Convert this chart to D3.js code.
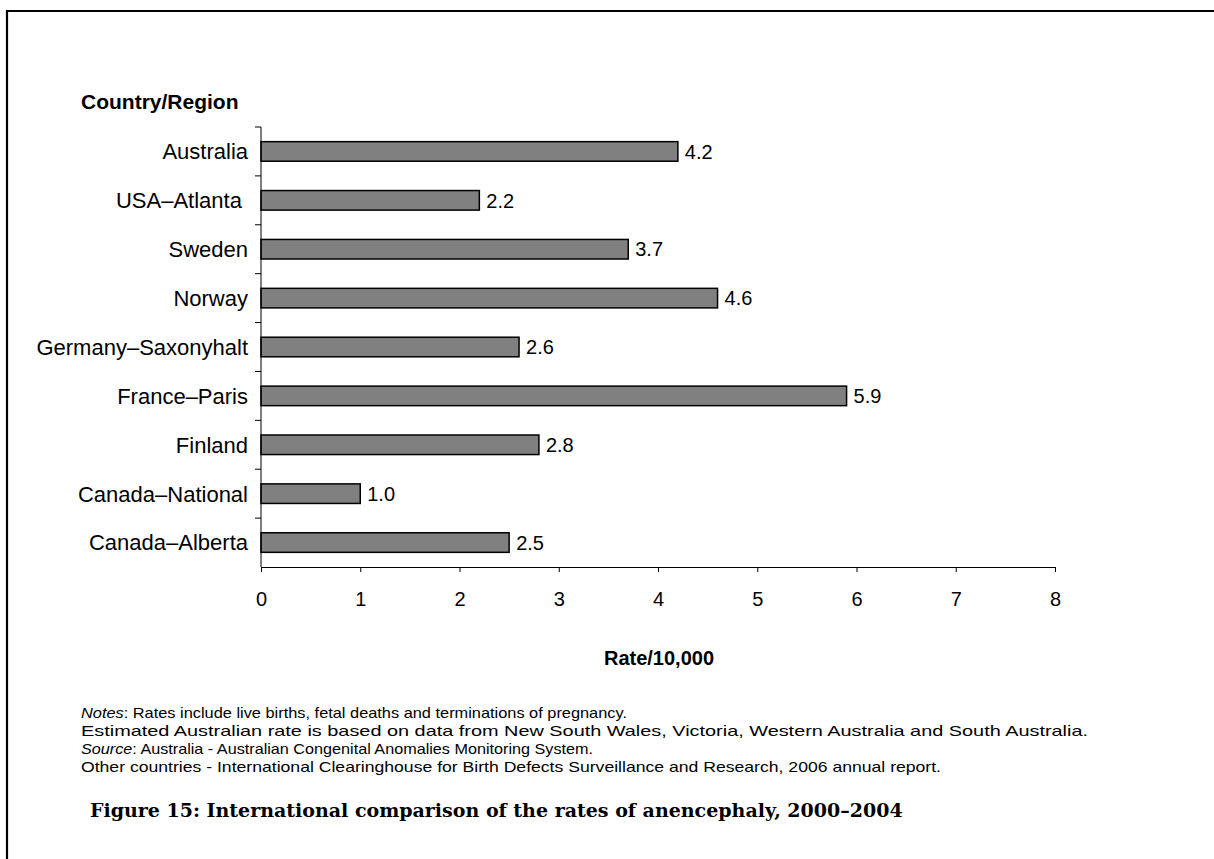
<!DOCTYPE html>
<html>
<head>
<meta charset="utf-8">
<script src="https://cdn.jsdelivr.net/npm/d3@7"></script>
<style>
  body { margin: 0; background: #fff; }
  text { font-family: "Liberation Sans", Arial, sans-serif; fill: #000; }
</style>
</head>
<body>
<script>
// data
let countries = ["Australia", "USA\u2013Atlanta ", "Sweden", "Norway", "Germany\u2013Saxonyhalt",
                 "France\u2013Paris", "Finland", "Canada\u2013National", "Canada\u2013Alberta"];
let rates = [4.2, 2.2, 3.7, 4.6, 2.6, 5.9, 2.8, 1.0, 2.5];
let xTicks = [0, 1, 2, 3, 4, 5, 6, 7, 8];
let notes = [
  [["Notes", true], [": Rates include live births, fetal deaths and terminations of pregnancy.", false]],
  [["Estimated Australian rate is based on data from New South Wales, Victoria, Western Australia and South Australia.", false]],
  [["Source", true], [": Australia - Australian Congenital Anomalies Monitoring System.", false]],
  [["Other countries - International Clearinghouse for Birth Defects Surveillance and Research, 2006 annual report.", false]]
];
let noteWidths = [546, 1007, 512, 860];

let data = countries.map(function(c, i) { return {name: c, rate: rates[i]}; });

let W = 1214, H = 859;
let margin = {top: 127, left: 261},
    width = 1055 - margin.left,
    height = 567 - margin.top;

let svg = d3.select("body").append("svg")
    .attr("width", W)
    .attr("height", H);

// frame (top and left only)
svg.append("path")
    .attr("d", "M7," + H + "V11H" + W)
    .attr("fill", "none")
    .attr("stroke", "#000")
    .attr("stroke-width", 2.2);

let g = svg.append("g")
    .attr("transform", "translate(" + margin.left + "," + margin.top + ")");

let x = d3.scaleLinear().domain([0, 8]).range([0, width]);
let y = d3.scaleBand().domain(countries).range([0, height]).paddingInner(0.6).paddingOuter(0.3);

// bars
g.selectAll(".bar")
    .data(data)
    .enter().append("rect")
    .attr("class", "bar")
    .attr("x", 0)
    .attr("y", function(d) { return y(d.name); })
    .attr("width", function(d) { return x(d.rate); })
    .attr("height", y.bandwidth())
    .attr("fill", "#808080")
    .attr("stroke", "#000")
    .attr("stroke-width", 1.5);

// value labels
g.selectAll(".val")
    .data(data)
    .enter().append("text")
    .attr("class", "val")
    .attr("x", function(d) { return x(d.rate) + 7; })
    .attr("y", function(d) { return y(d.name) + y.bandwidth() / 2; })
    .attr("dy", "0.36em")
    .style("font-size", "20px")
    .text(function(d) { return d.rate.toFixed(1); });

// x axis
let xAxis = g.append("g")
    .attr("transform", "translate(0," + height + ")")
    .call(d3.axisBottom(x).tickValues(xTicks).tickFormat(d3.format("d")).tickSizeInner(5).tickSizeOuter(0).tickPadding(20));
xAxis.selectAll("text").style("font-size", "20px").attr("font-family", null);
xAxis.select(".domain").attr("stroke", "#000");
xAxis.selectAll(".tick line").attr("stroke", "#000");

// y axis: ticks at band boundaries
let step = height / countries.length;
let yAxis = g.append("g");
yAxis.append("line")
    .attr("x1", 0).attr("x2", 0)
    .attr("y1", 0).attr("y2", height)
    .attr("stroke", "#000");
yAxis.selectAll(".ytick")
    .data(d3.range(countries.length))
    .enter().append("line")
    .attr("x1", -6).attr("x2", 0)
    .attr("y1", function(i) { return i * step; })
    .attr("y2", function(i) { return i * step; })
    .attr("stroke", "#000");
yAxis.selectAll(".ylab")
    .data(countries)
    .enter().append("text")
    .attr("x", -13)
    .attr("y", function(d) { return y(d) + y.bandwidth() / 2; })
    .attr("dy", "0.36em")
    .attr("text-anchor", "end")
    .style("font-size", "22px")
    .style("white-space", "pre")
    .text(function(d) { return d; });

// axis titles
svg.append("text")
    .attr("x", 81).attr("y", 109)
    .style("font-size", "21px").style("font-weight", "bold")
    .text("Country/Region");

svg.append("text")
    .attr("x", margin.left + width / 2 + 1).attr("y", 665)
    .attr("text-anchor", "middle")
    .style("font-size", "20px").style("font-weight", "bold")
    .text("Rate/10,000");

// notes
let notesText = svg.append("g");
notes.forEach(function(line, i) {
  let t = notesText.append("text")
      .attr("x", 81).attr("y", 718 + i * 18)
      .attr("textLength", noteWidths[i])
      .attr("lengthAdjust", "spacingAndGlyphs")
      .style("font-size", "15px");
  line.forEach(function(part) {
    t.append("tspan")
      .style("font-style", part[1] ? "italic" : "normal")
      .text(part[0]);
  });
});

// caption
svg.append("text")
    .attr("x", 90).attr("y", 817)
    .style("font-family", "'DejaVu Serif', 'Liberation Serif', serif")
    .style("font-size", "19px").style("font-weight", "bold")
    .text("Figure 15: International comparison of the rates of anencephaly, 2000\u20132004");
</script>
</body>
</html>
